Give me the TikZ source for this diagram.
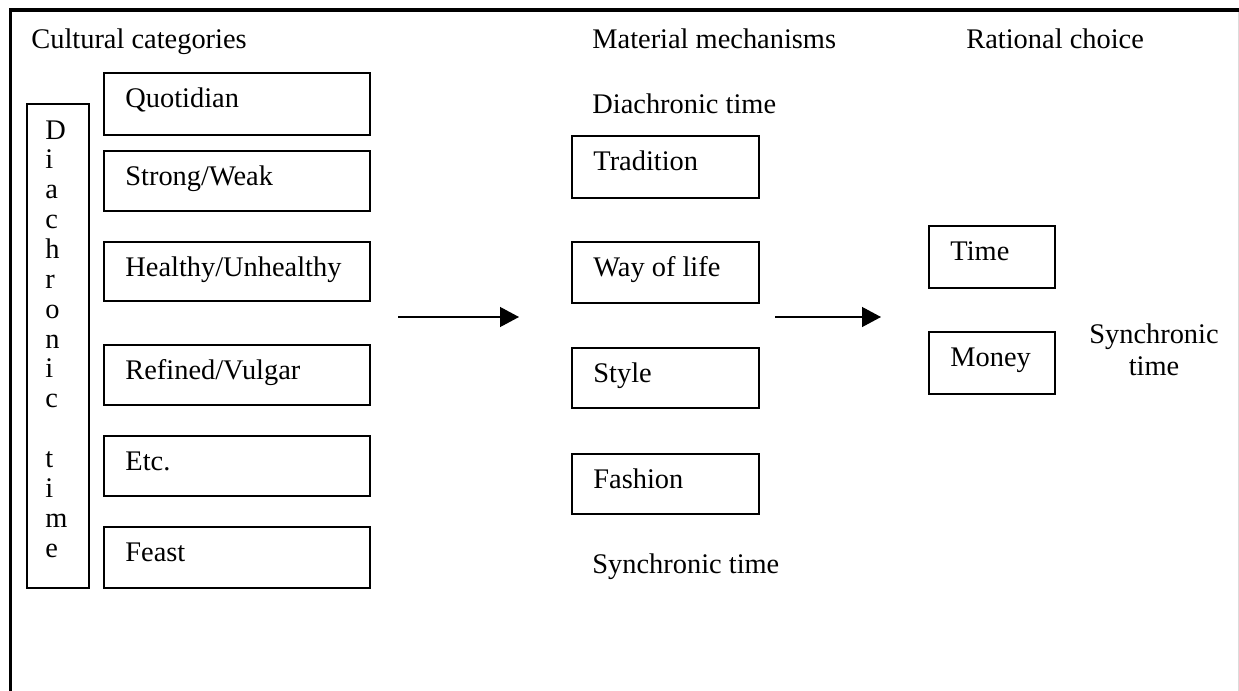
\documentclass[tikz,border=0pt]{standalone}
\usepackage{fontspec}
\setmainfont{Liberation Serif}
\usetikzlibrary{arrows.meta}

\tikzset{
  txt/.style={inner sep=0pt, font=\fontsize{14.2pt}{17pt}\selectfont},
  catbox/.style={draw=black, line width=0.8pt, anchor=north west, inner sep=0pt},
  intext/.style={txt, anchor=base west, xshift=11pt, yshift=-17.5pt},
  flow/.style={line width=0.65pt, -{Triangle[length=9.5pt,width=10pt]}},
  frameline/.style={line width=1.6pt, black}
}

\begin{document}
\begin{tikzpicture}[x=0.5pt,y=-0.5pt]
  \useasboundingbox (0,0) rectangle (1239,691);

  % page frame: heavy top and left rules, faint right edge
  \draw[frameline] (9,10) -- (1238.5,10);
  \draw[frameline] (10.5,9) -- (10.5,691);
  \draw[line width=0.5pt, black!14] (1238.5,12) -- (1238.5,691);

  % column headings
  \node[txt, anchor=base west] (hcult) at (31,48) {Cultural categories};
  \node[txt, anchor=base west] (hmat)  at (592,48) {Material mechanisms};
  \node[txt, anchor=base west] (hrat)  at (966,48) {Rational choice};

  % vertical "Diachronic time" strip
  \node[catbox, minimum width=31pt, minimum height=242pt] (strip) at (26,103) {};
  \foreach \ch [count=\i] in {D,i,a,c,h,r,o,n,i,c,{},t,i,m,e}
    \node[txt, anchor=base west] (vt\i) at (45,{139+29.86*(\i-1)}) {\ch};

  % cultural categories
  \node[catbox, minimum width=133pt, minimum height=31pt]   (quot) at (103,72)  {};
  \node[catbox, minimum width=133pt, minimum height=30pt]   (strw) at (103,150) {};
  \node[catbox, minimum width=133pt, minimum height=29.5pt] (heal) at (103,241) {};
  \node[catbox, minimum width=133pt, minimum height=30pt]   (refi) at (103,344) {};
  \node[catbox, minimum width=133pt, minimum height=30pt]   (etc)  at (103,435) {};
  \node[catbox, minimum width=133pt, minimum height=30.5pt] (feas) at (103,526) {};
  \node[intext] (quott) at (quot.north west) {Quotidian};
  \node[intext] (strwt) at (strw.north west) {Strong/Weak};
  \node[intext] (healt) at (heal.north west) {Healthy/Unhealthy};
  \node[intext] (refit) at (refi.north west) {Refined/Vulgar};
  \node[intext] (etct)  at (etc.north west)  {Etc.};
  \node[intext] (feast) at (feas.north west) {Feast};

  % material mechanisms
  \node[txt, anchor=base west] (diat) at (592,113) {Diachronic time};
  \node[catbox, minimum width=93.5pt, minimum height=31pt]   (trad) at (571,135) {};
  \node[catbox, minimum width=93.5pt, minimum height=30.5pt] (wayl) at (571,241) {};
  \node[catbox, minimum width=93.5pt, minimum height=30pt]   (styl) at (571,347) {};
  \node[catbox, minimum width=93.5pt, minimum height=30pt]   (fash) at (571,453) {};
  \node[intext] (tradt) at (trad.north west) {Tradition};
  \node[intext] (waylt) at (wayl.north west) {Way of life};
  \node[intext] (stylt) at (styl.north west) {Style};
  \node[intext] (fasht) at (fash.north west) {Fashion};
  \node[txt, anchor=base west] (synt) at (592,573) {Synchronic time};

  % rational choice
  \node[catbox, minimum width=63pt, minimum height=31pt] (time)  at (928,225) {};
  \node[catbox, minimum width=63pt, minimum height=31pt] (money) at (928,331) {};
  \node[intext] (timet)  at (time.north west)  {Time};
  \node[intext] (moneyt) at (money.north west) {Money};
  \node[txt, anchor=base] (synr1) at (1154,343) {Synchronic};
  \node[txt, anchor=base] (synr2) at (1154,375) {time};

  % flow arrows between the columns
  \coordinate (a1s) at (398,317);
  \coordinate (a1e) at (519,317);
  \coordinate (a2s) at (775,317);
  \coordinate (a2e) at (881,317);
  \draw[flow] (a1s) -- (a1e);
  \draw[flow] (a2s) -- (a2e);
\end{tikzpicture}
\end{document}
